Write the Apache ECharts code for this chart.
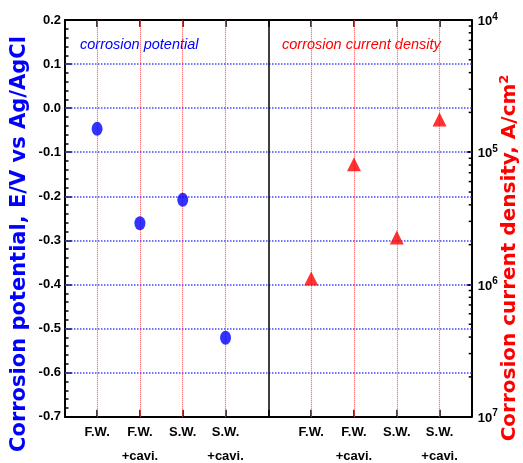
<!DOCTYPE html>
<html>
<head>
<meta charset="utf-8">
<script src="https://cdn.jsdelivr.net/npm/echarts@6/dist/echarts.min.js"></script>
<style>
html, body { margin: 0; padding: 0; background: #fff; }
#graphContainer { width: 523px; height: 463px; }
</style>
</head>
<body>
<div id="graphContainer"></div>
<script>
// samples, same order in both panels
var categories = ['F.W.', 'F.W.\n+cavi.', 'S.W.', 'S.W.\n+cavi.'];
// corrosion potential, E/V vs Ag/AgCl (left panel)
var potential = [-0.047, -0.261, -0.208, -0.521];
// corrosion current density, A/cm2 (right panel)
var currentDensity = [1.11e-6, 8.1e-6, 2.27e-6, 1.77e-5];
// left axis ticks, blue dotted grid on the inner ones
var leftTicks = [0.2, 0.1, 0.0, -0.1, -0.2, -0.3, -0.4, -0.5, -0.6, -0.7];
// right axis labels as printed: 10 with superscript
var rightTickExp = { '-4': '4', '-5': '5', '-6': '6', '-7': '7' };
var minorMantissa = [2, 3, 4, 5, 6, 7, 8, 9];
var decades = [1e-7, 1e-6, 1e-5];

var leftX = [], rightX = [];
for (var i = 0; i < categories.length; i++) {
	leftX.push(i + 1);
	rightX.push(i + 6);
}
var potData = potential.map(function (v, i) { return [leftX[i], v]; });
var curData = currentDensity.map(function (v, i) { return [rightX[i], v]; });

var minorData = [];
decades.forEach(function (d) {
	minorMantissa.forEach(function (m) { minorData.push([9.75, m * d]); });
});

var vLines = leftX.concat(rightX).map(function (x) { return { xAxis: x }; });
var hLines = leftTicks.slice(1, -1).map(function (y) {
	return { yAxis: y, lineStyle: { color: '#4646ff', type: [1.5, 1.5], width: 1.6 } };
});

var font = '"Liberation Sans", Arial, sans-serif';
var dom = document.getElementById('graphContainer');
var myEChart = echarts.init(dom, null, { renderer: 'canvas' });

var option = {
	animation: false,
	grid: { left: 65, right: 51.3, top: 20, bottom: 46.3, outerBoundsMode: 'none', containLabel: false },
	xAxis: [
		{
			type: 'value',
			min: 0.25,
			max: 9.75,
			axisLine: { show: true, onZero: false, lineStyle: { color: '#000', width: 2 } },
			axisTick: {
				show: true, inside: true, length: 7,
				customValues: [1, 2, 3, 4, 5, 6, 7, 8, 9],
				lineStyle: { color: '#000', width: 1.5 }
			},
			axisLabel: {
				customValues: leftX.concat(rightX),
				formatter: function (value) {
					var idx = value < 5 ? value - 1 : value - 6;
					return categories[idx];
				},
				fontFamily: font,
				fontWeight: 'bold',
				fontSize: 13,
				lineHeight: 24,
				color: '#000',
				margin: 4
			},
			splitLine: { show: false }
		},
		{
			type: 'value',
			position: 'top',
			min: 0.25,
			max: 9.75,
			axisLine: { show: true, onZero: false, lineStyle: { color: '#000', width: 2 } },
			axisTick: {
				show: true, inside: true, length: 7,
				customValues: [1, 2, 3, 4, 5, 6, 7, 8, 9],
				lineStyle: { color: '#000', width: 1.5 }
			},
			axisLabel: { show: false },
			splitLine: { show: false }
		}
	],
	yAxis: [
		{
			type: 'value',
			min: -0.7,
			max: 0.2,
			interval: 0.1,
			axisLine: { show: true, onZero: false, lineStyle: { color: '#000', width: 2 } },
			axisTick: { show: true, inside: true, length: 7, lineStyle: { color: '#000', width: 1.5 } },
			minorTick: { show: true, splitNumber: 5, length: 3.5, lineStyle: { color: '#000', width: 1.5 } },
			axisLabel: {
				fontFamily: font,
				fontWeight: 'bold',
				fontSize: 13,
				color: '#000',
				margin: 4,
				formatter: function (v) { return v.toFixed(1); }
			},
			splitLine: { show: false }
		},
		{
			type: 'log',
			logBase: 10,
			min: 1e-7,
			max: 1e-4,
			interval: 1,
			position: 'right',
			axisLine: { show: true, onZero: false, lineStyle: { color: '#000', width: 2 } },
			axisTick: { show: true, inside: true, length: 5, lineStyle: { color: '#000', width: 2 } },
			axisLabel: {
				margin: 6,
				color: '#000',
				formatter: function (v) {
					var e = Math.round(Math.log10(v));
					return '{b|10}{s|' + rightTickExp[String(e)] + '}';
				},
				rich: {
					b: { fontFamily: font, fontWeight: 'bold', fontSize: 13, color: '#000', verticalAlign: 'bottom' },
					s: { fontFamily: font, fontWeight: 'bold', fontSize: 10, color: '#000', verticalAlign: 'bottom', padding: [0, 0, 6, 0] }
				}
			},
			splitLine: { show: false }
		}
	],
	graphic: [
		{
			type: 'text', x: 20, y: 244, rotation: Math.PI / 2,
			style: {
				text: 'Corrosion potential, E/V vs Ag/AgCl',
				fill: '#0000ff', font: 'bold 21px "DejaVu Sans"',
				align: 'center', verticalAlign: 'middle',
				textAlign: 'center', textVerticalAlign: 'middle'
			}
		},
		{
			type: 'text', x: 509, y: 258, rotation: Math.PI / 2,
			style: {
				text: '{m|Corrosion current density, A/cm}{s|2}',
				align: 'center', verticalAlign: 'middle',
				textAlign: 'center', textVerticalAlign: 'middle',
				rich: {
					m: { fill: '#ff0000', font: 'bold 20px "DejaVu Sans"', verticalAlign: 'bottom' },
					s: { fill: '#ff0000', font: 'bold 13px "DejaVu Sans"', verticalAlign: 'bottom', padding: [0, 0, 9, 0] }
				}
			}
		},
		{
			type: 'text', x: 80, y: 45,
			style: {
				text: 'corrosion potential', fill: '#0000ff',
				font: 'italic 14.5px "Liberation Sans"',
				align: 'left', verticalAlign: 'middle', textAlign: 'left', textVerticalAlign: 'middle'
			}
		},
		{
			type: 'text', x: 282, y: 45,
			style: {
				text: 'corrosion current density', fill: '#ff0000',
				font: 'italic 14.5px "Liberation Sans"',
				align: 'left', verticalAlign: 'middle', textAlign: 'left', textVerticalAlign: 'middle'
			}
		}
	],
	series: [
		{
			name: 'corrosion potential',
			type: 'scatter',
			xAxisIndex: 0,
			yAxisIndex: 0,
			symbol: 'circle',
			symbolSize: [11, 14],
			itemStyle: { color: '#0000ff' },
			data: potData,
			z: 5,
			markLine: {
				silent: true,
				symbol: 'none',
				label: { show: false },
				lineStyle: { color: '#ff4a4a', type: [1, 1], width: 1.1 },
				data: vLines.concat(hLines).concat([{ xAxis: 5, lineStyle: { color: '#000', type: 'solid', width: 1.5 } }])
			}
		},
		{
			name: 'corrosion current density',
			type: 'scatter',
			xAxisIndex: 0,
			yAxisIndex: 1,
			symbol: 'triangle',
			symbolSize: [14, 14],
			itemStyle: { color: '#ff0000' },
			data: curData,
			z: 5
		},
		{
			type: 'custom',
			xAxisIndex: 0,
			yAxisIndex: 1,
			silent: true,
			clip: false,
			data: minorData,
			renderItem: function (params, api) {
				var p = api.coord([api.value(0), api.value(1)]);
				return {
					type: 'line',
					shape: { x1: p[0] - 3, y1: p[1], x2: p[0], y2: p[1] },
					style: { stroke: '#000', lineWidth: 1.5 }
				};
			}
		}
	]
};

myEChart.setOption(option);
window.addEventListener('resize', myEChart.resize);
</script>
</body>
</html>
